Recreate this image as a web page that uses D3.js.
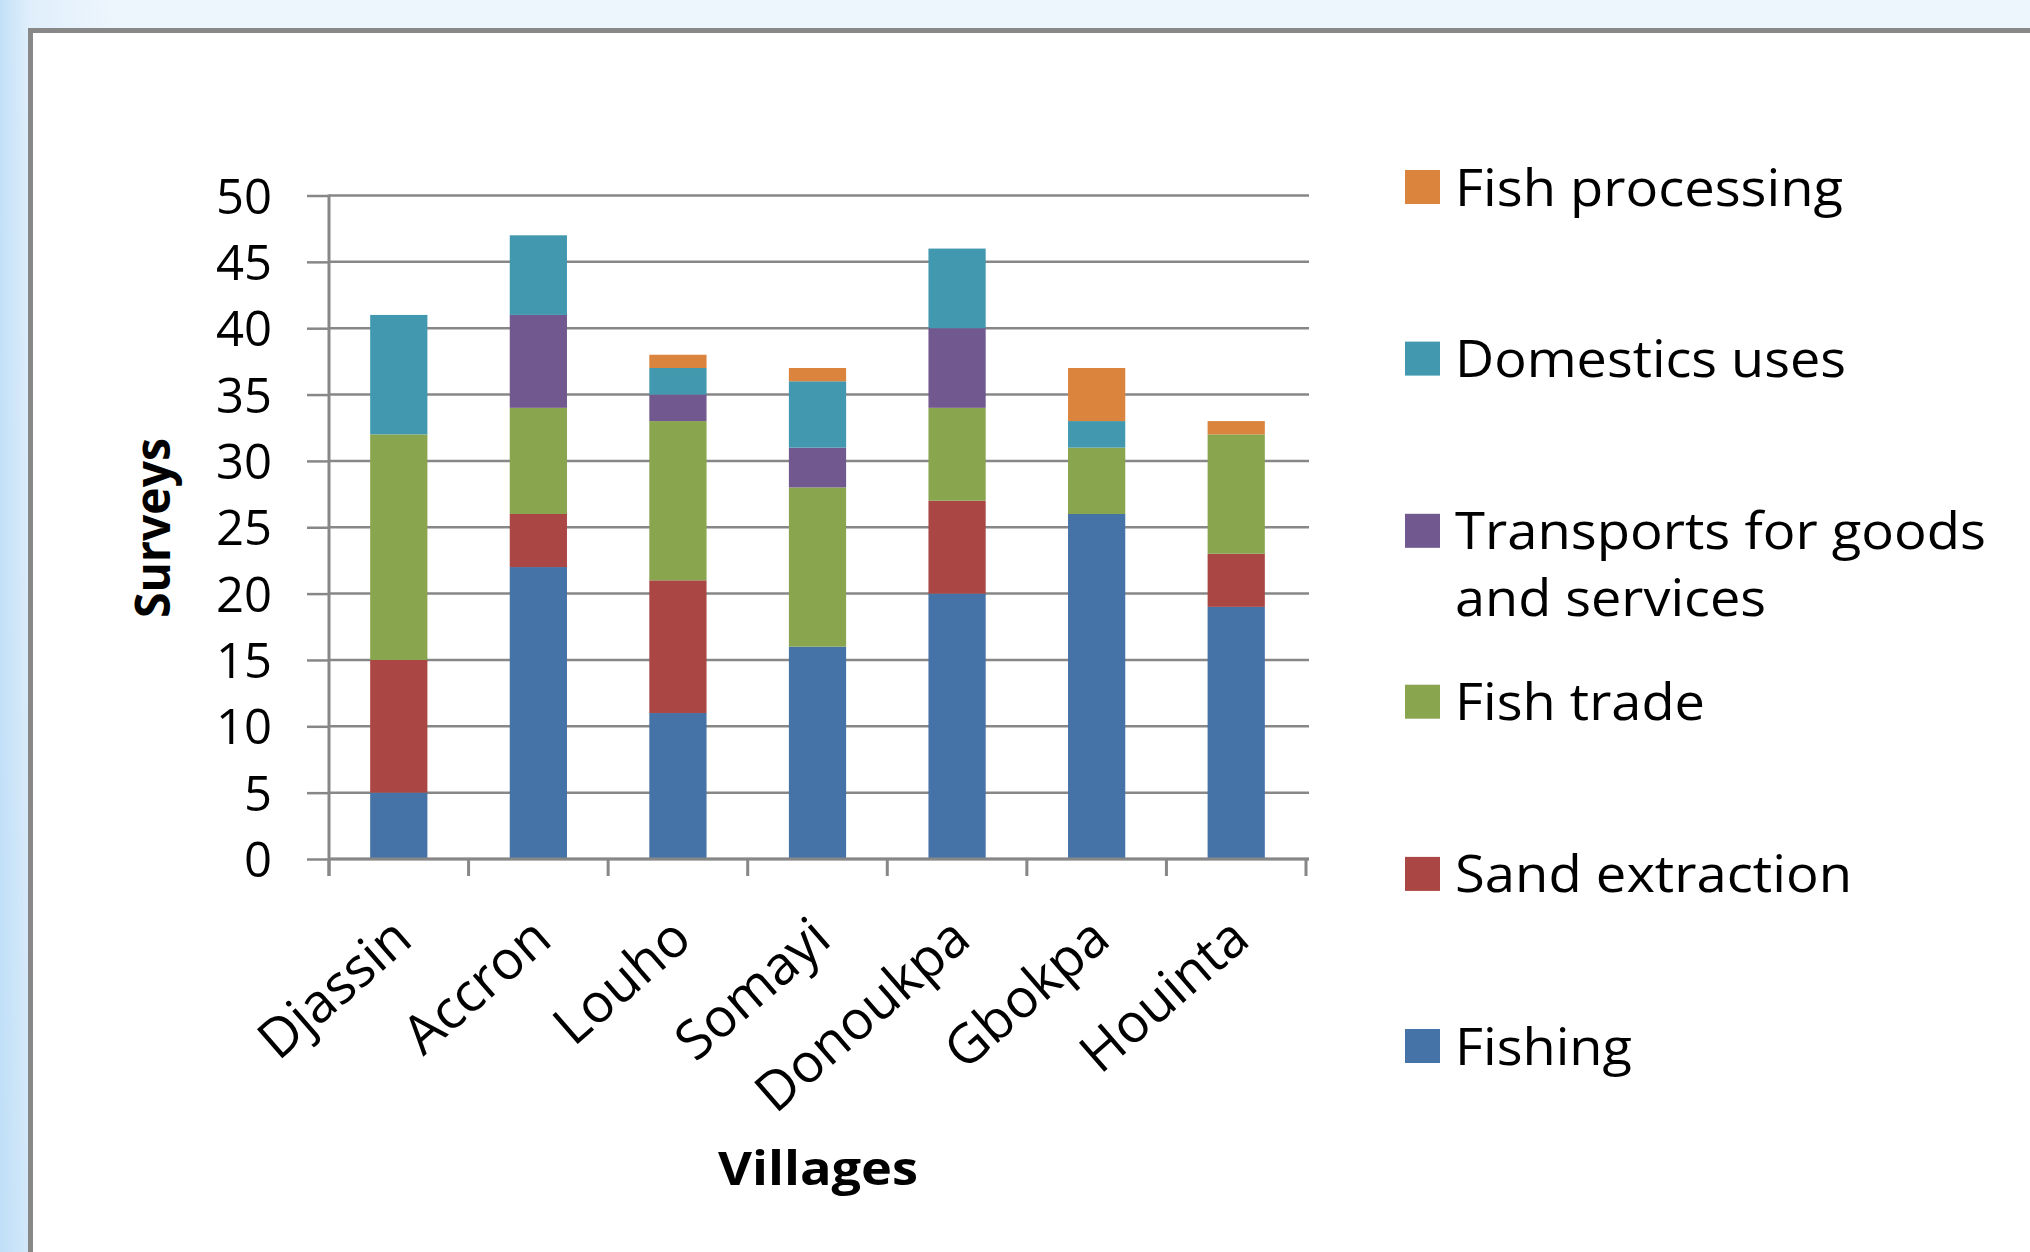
<!DOCTYPE html>
<html>
<head>
<meta charset="utf-8">
<script src="https://cdn.jsdelivr.net/npm/d3@7"></script>
<style>
  html, body { margin: 0; padding: 0; }
  body {
    width: 2030px; height: 1252px; overflow: hidden;
    background:
      linear-gradient(to right, rgba(190,222,247,0.9) 0px, rgba(215,234,250,0.6) 30px, rgba(255,255,255,0) 120px),
      linear-gradient(to bottom, #eef6fd 0px, #e4f0fb 600px, #cfe6f9 1252px);
  }
  svg { position: absolute; left: 0; top: 0; }
  text { font-family: "Open Sans", "DejaVu Sans", sans-serif; fill: #000; }
</style>
</head>
<body>
<svg id="chart" width="2030" height="1252"></svg>
<script>
// ---- data ----
const villages = ["Djassin", "Accron", "Louho", "Somayi", "Donoukpa", "Gbokpa", "Houinta"];
const fishing        = [5, 22, 11, 16, 20, 26, 19];
const sandExtraction = [10, 4, 10, 0, 7, 0, 4];
const fishTrade      = [17, 8, 12, 12, 7, 5, 9];
const transports     = [0, 7, 2, 3, 6, 0, 0];
const domesticUses   = [9, 6, 2, 5, 6, 2, 0];
const fishProcessing = [0, 0, 1, 1, 0, 4, 1];
const seriesNames = ["Fishing", "Sand extraction", "Fish trade", "Transports for goods and services", "Domestics uses", "Fish processing"];
const seriesColors = ["#4572A7", "#AA4643", "#89A54E", "#71588F", "#4198AF", "#DB843D"];
const yTicks = [0, 5, 10, 15, 20, 25, 30, 35, 40, 45, 50];

const seriesValues = [fishing, sandExtraction, fishTrade, transports, domesticUses, fishProcessing];
const table = villages.map((v, i) => {
  const row = { village: v };
  seriesNames.forEach((s, k) => row[s] = seriesValues[k][i]);
  return row;
});

// ---- layout ----
const svg = d3.select("#chart");
const plotLeft = 329, plotRight = 1306, plotTop = 195.5, plotBottom = 859;
const gridColor = "#878787";

// outer frame
svg.append("rect")
  .attr("x", 30.5).attr("y", 30.5)
  .attr("width", 2100).attr("height", 1400)
  .attr("fill", "#ffffff")
  .attr("stroke", "#888888").attr("stroke-width", 5);

const x = d3.scaleBand().domain(villages).range([plotLeft, plotRight])
  .paddingInner(0.59).paddingOuter(0.295);
const y = d3.scaleLinear().domain([0, 50]).range([plotBottom, plotTop]);
const color = d3.scaleOrdinal().domain(seriesNames).range(seriesColors);

// gridlines
svg.append("g").selectAll("line").data(yTicks).join("line")
  .attr("x1", plotLeft).attr("x2", plotRight + 3)
  .attr("y1", d => y(d)).attr("y2", d => y(d))
  .attr("stroke", gridColor).attr("stroke-width", 2.5);

// y axis (ticks + labels)
const yAxis = svg.append("g")
  .attr("transform", `translate(${plotLeft},0)`)
  .call(d3.axisLeft(y).tickValues(yTicks).tickSize(22).tickPadding(35).tickFormat(d3.format("d")));
yAxis.select(".domain").remove();
yAxis.selectAll(".tick line").attr("stroke", gridColor).attr("stroke-width", 2.5);
yAxis.selectAll(".tick text")
  .attr("font-family", "'Open Sans', sans-serif")
  .attr("font-size", 49).attr("dy", "0.36em").attr("fill", "#000");

// bars
const stack = d3.stack().keys(seriesNames)(table);
svg.append("g").selectAll("g").data(stack).join("g")
  .attr("fill", d => color(d.key))
  .selectAll("rect").data(d => d).join("rect")
  .attr("x", d => x(d.data.village))
  .attr("width", x.bandwidth())
  .attr("y", d => y(d[1]))
  .attr("height", d => y(d[0]) - y(d[1]));

// axis lines
svg.append("line")
  .attr("x1", plotLeft).attr("x2", plotLeft)
  .attr("y1", plotTop - 1).attr("y2", plotBottom + 17)
  .attr("stroke", gridColor).attr("stroke-width", 3);
svg.append("line")
  .attr("x1", plotLeft).attr("x2", plotRight + 3)
  .attr("y1", plotBottom).attr("y2", plotBottom)
  .attr("stroke", gridColor).attr("stroke-width", 3);

// x tick marks at category boundaries
const gap = (x.step() - x.bandwidth()) / 2;
const boundaries = villages.map(v => x(v) - gap).concat([x(villages[villages.length - 1]) + x.bandwidth() + gap]);
svg.append("g").selectAll("line").data(boundaries).join("line")
  .attr("x1", d => d).attr("x2", d => d)
  .attr("y1", plotBottom).attr("y2", plotBottom + 17)
  .attr("stroke", gridColor).attr("stroke-width", 3);

// category labels
svg.append("g").selectAll("text").data(villages).join("text")
  .attr("transform", d => `translate(${x(d) + x.bandwidth() / 2 + 16},${plotBottom + 84}) rotate(-41)`)
  .attr("text-anchor", "end")
  .attr("font-size", 54)
  .text(d => d);

// axis titles
svg.append("text")
  .attr("x", 818).attr("y", 1185)
  .attr("text-anchor", "middle")
  .attr("font-size", 46).attr("font-weight", "bold")
  .attr("textLength", 200).attr("lengthAdjust", "spacingAndGlyphs")
  .text("Villages");
svg.append("text")
  .attr("transform", "translate(170,528) rotate(-90)")
  .attr("text-anchor", "middle")
  .attr("font-size", 48).attr("font-weight", "bold")
  .attr("textLength", 180).attr("lengthAdjust", "spacingAndGlyphs")
  .text("Surveys");

// legend (top to bottom: reverse series order)
const legendItems = [
  { key: "Fish processing", lines: ["Fish processing"], widths: [388], cy: 187 },
  { key: "Domestics uses", lines: ["Domestics uses"], widths: [391], cy: 358.6 },
  { key: "Transports for goods and services", lines: ["Transports for goods", "and services"], widths: [531, 311], cy: 530.8 },
  { key: "Fish trade", lines: ["Fish trade"], widths: [250], cy: 701.7 },
  { key: "Sand extraction", lines: ["Sand extraction"], widths: [397], cy: 873.9 },
  { key: "Fishing", lines: ["Fishing"], widths: [177], cy: 1046 }
];
const lg = svg.append("g").selectAll("g").data(legendItems).join("g");
lg.append("rect")
  .attr("x", 1405).attr("y", d => d.cy - 17)
  .attr("width", 35).attr("height", 34)
  .attr("fill", d => color(d.key));
lg.each(function (d) {
  const g = d3.select(this);
  d.lines.forEach((ln, i) => {
    g.append("text")
      .attr("x", 1455).attr("y", d.cy + 18.5 + i * 67)
      .attr("font-size", 52)
      .attr("textLength", d.widths[i]).attr("lengthAdjust", "spacingAndGlyphs")
      .text(ln);
  });
});
</script>
</body>
</html>
